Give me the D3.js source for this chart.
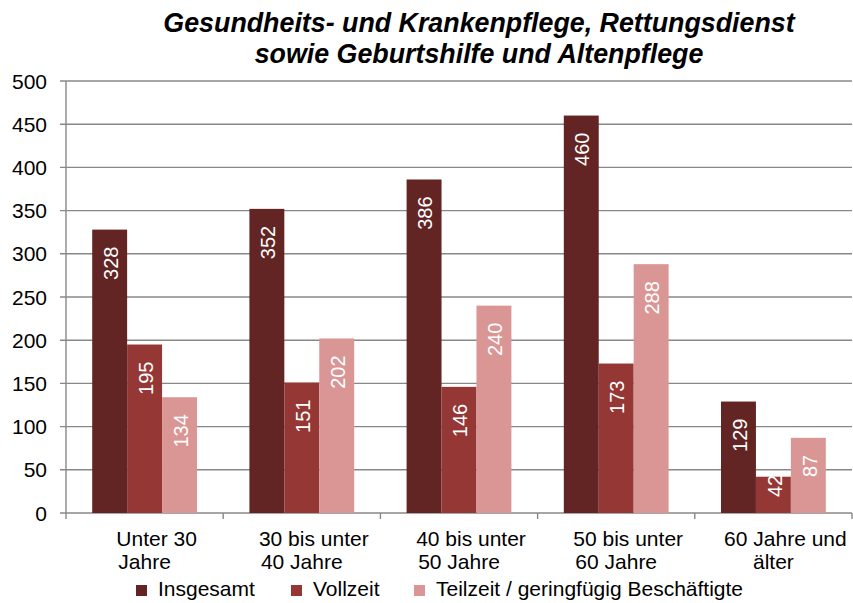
<!DOCTYPE html>
<html lang="de">
<meta charset="utf-8">
<style>
body {
  margin: 0;
  font-family: 'Liberation Sans', Arial, sans-serif;
  background: #fff;
}
.grid line {
  stroke: #888;
  stroke-width: 1.4px;
}
.axis text {
  font-size: 21px;
  fill: #000;
}
.barlabel {
  font-size: 20px;
  fill: #fff;
}
</style>
<body>
<div id="chart"></div>
<script src="https://d3js.org/d3.v7.min.js"></script>
<script>

// data
var categories = [["Unter 30", "Jahre"], ["30 bis unter", "40 Jahre"], ["40 bis unter", "50 Jahre"], ["50 bis unter", "60 Jahre"], ["60 Jahre und", "älter"]];
var seriesNames = ["Insgesamt", "Vollzeit", "Teilzeit / geringfügig Beschäftigte"];
var insgesamt = [328, 352, 386, 460, 129];
var vollzeit = [195, 151, 146, 173, 42];
var teilzeit = [134, 202, 240, 288, 87];
var yTicks = [0, 50, 100, 150, 200, 250, 300, 350, 400, 450, 500];
var titleLines = ["Gesundheits- und Krankenpflege, Rettungsdienst", "sowie Geburtshilfe und Altenpflege"];

var colors = ["#632523", "#953735", "#d99694"];
var series = [insgesamt, vollzeit, teilzeit];

var width = 853,
    height = 603;
var margin = {top: 81, right: 1, bottom: 90, left: 66};

var svg = d3.select("#chart").append("svg")
    .attr("width", width)
    .attr("height", height);

var x0 = d3.scaleBand()
    .domain(d3.range(categories.length))
    .range([margin.left, width - margin.right])
    .paddingInner(0)
    .paddingOuter(0);

var x1 = d3.scaleBand()
    .domain(d3.range(series.length))
    .range([0, x0.bandwidth()])
    .paddingOuter(0.75)
    .paddingInner(0);

var y = d3.scaleLinear()
    .domain([0, 500])
    .range([height - margin.bottom, margin.top]);

// title
svg.append("g").selectAll("text")
    .data(titleLines)
  .enter().append("text")
    .attr("x", 479)
    .attr("y", function(d, i) { return 32 + i * 31; })
    .attr("text-anchor", "middle")
    .style("font-size", "26.8px")
    .style("font-weight", "bold")
    .style("font-style", "italic")
    .text(function(d) { return d; });

// horizontal gridlines
svg.append("g")
    .attr("class", "grid")
  .selectAll("line")
    .data(yTicks)
  .enter().append("line")
    .attr("x1", margin.left - 6)
    .attr("x2", width - margin.right)
    .attr("y1", function(d) { return y(d); })
    .attr("y2", function(d) { return y(d); });

// y axis line + labels
svg.append("line")
    .attr("x1", margin.left).attr("x2", margin.left)
    .attr("y1", y(500)).attr("y2", y(0))
    .style("stroke", "#888").style("stroke-width", "1.4px");

svg.append("g")
    .attr("class", "axis")
  .selectAll("text")
    .data(yTicks)
  .enter().append("text")
    .attr("x", 47)
    .attr("y", function(d) { return y(d); })
    .attr("dy", "0.36em")
    .attr("text-anchor", "end")
    .text(function(d) { return d; });

// category ticks
var catEdges = d3.range(categories.length + 1).map(function(i) {
  return i < categories.length ? x0(i) : x0(i - 1) + x0.bandwidth();
});
svg.append("g").selectAll("line")
    .data(catEdges)
  .enter().append("line")
    .attr("x1", function(d) { return d; })
    .attr("x2", function(d) { return d; })
    .attr("y1", y(0))
    .attr("y2", y(0) + 6)
    .style("stroke", "#888").style("stroke-width", "1.4px");

// category labels (two lines, Excel-style wrapping)
var catLabels = svg.append("g")
    .attr("class", "axis")
  .selectAll("g")
    .data(categories)
  .enter().append("g");

catLabels.append("text")
    .attr("x", function(d, i) { return x0(i) + x0.bandwidth() / 2 + 12; })
    .attr("y", y(0) + 33)
    .attr("text-anchor", "middle")
    .text(function(d) { return d[0]; });

catLabels.append("text")
    .attr("x", function(d, i) { return x0(i) + x0.bandwidth() / 2; })
    .attr("y", y(0) + 56)
    .attr("text-anchor", "middle")
    .text(function(d) { return d[1]; });

// bars
var groups = svg.append("g").selectAll("g")
    .data(series)
  .enter().append("g")
    .style("fill", function(d, i) { return colors[i]; });

groups.selectAll("rect")
    .data(function(d, s) { return d.map(function(v, i) { return {v: v, i: i, s: s}; }); })
  .enter().append("rect")
    .attr("x", function(d) { return x0(d.i) + x1(d.s); })
    .attr("width", x1.bandwidth())
    .attr("y", function(d) { return y(d.v); })
    .attr("height", function(d) { return y(0) - y(d.v); });

// value labels, rotated, inside end
groups.selectAll("text")
    .data(function(d, s) { return d.map(function(v, i) { return {v: v, i: i, s: s}; }); })
  .enter().append("text")
    .attr("class", "barlabel")
    .attr("text-anchor", "start")
    .attr("dy", "0.36em")
    .text(function(d) { return d.v; })
    .attr("transform", function(d) {
      var len = this.getComputedTextLength();
      var top = Math.min(y(d.v) + 17, y(0) - 16 - len);
      var cx = x0(d.i) + x1(d.s) + x1.bandwidth() / 2 + 1;
      return "translate(" + cx + "," + (top + len) + ") rotate(-90)";
    });

// legend
var legendX = [136, 291, 414];
var legend = svg.append("g").selectAll("g")
    .data(seriesNames)
  .enter().append("g")
    .attr("transform", function(d, i) { return "translate(" + legendX[i] + ",585)"; });

legend.append("rect")
    .attr("width", 11)
    .attr("height", 11)
    .style("fill", function(d, i) { return colors[i]; });

legend.append("text")
    .attr("x", 22)
    .attr("y", 11)
    .style("font-size", "21px")
    .text(function(d) { return d; });

</script>
</body>
</html>
